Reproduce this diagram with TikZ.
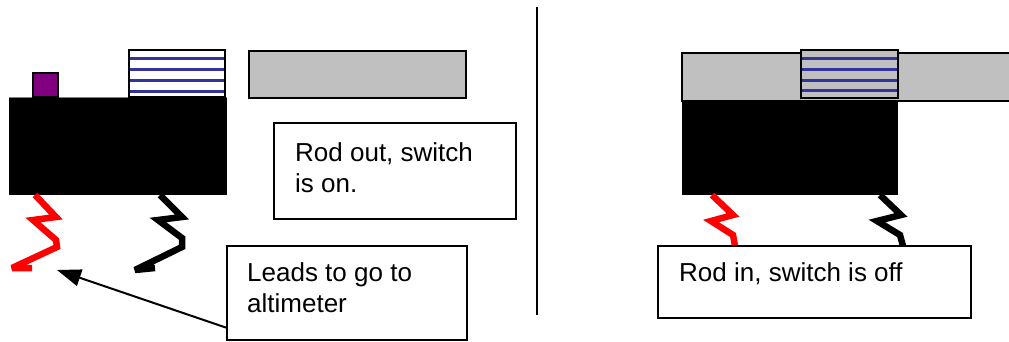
\documentclass[tikz,border=0pt]{standalone}
\usepackage{fontspec}
\setmainfont{Liberation Sans}
\usetikzlibrary{arrows.meta}
\definecolor{rodgrey}{RGB}{192,192,192}
\definecolor{coilblue}{RGB}{51,51,153}
\definecolor{knob}{RGB}{128,0,128}
\begin{document}
\begin{tikzpicture}[x=1pt,y=-1pt,
  outline/.style={draw=black,line width=1.6pt},
  caption/.style={outline,fill=white,inner sep=0pt,anchor=north west},
  words/.style={inner sep=0pt,anchor=base west,align=left,
    font=\fontsize{26}{31}\selectfont},
  coil/.style={coilblue,line width=3pt},
  lead/.style={line width=6.5pt,line join=miter,miter limit=4},
]
\useasboundingbox (0,0) rectangle (1009,341);

% ---------- switch with the rod pulled out ----------
\fill[black] (9,97) rectangle (227,195);
\draw[gray,line width=0.8pt] (9,97) -- (227,97);
\filldraw[fill=knob,outline] (33,73) rectangle (58,97);
\filldraw[fill=white,outline] (129,50) rectangle (225,97);
\foreach \yy in {58,69,80,91} \draw[coil] (130,\yy) -- (224,\yy);
\filldraw[fill=rodgrey,outline] (249,51) rectangle (466,98);

% leads of the left switch
\draw[lead,red] (35,195) -- (56,217) -- (33,220) -- (56,240) -- (57,247)
  -- (12,268) -- (32,268);
\draw[lead,black] (160,195) -- (182,217) -- (158,220) -- (182,238) -- (182,247)
  -- (135,270) -- (155,268);

% ---------- divider ----------
\draw[black,line width=1.4pt] (537,7) -- (537,315);

% ---------- switch with the rod pushed in ----------
\filldraw[fill=rodgrey,outline] (1012,53) -- (682,53) -- (682,101) -- (1012,101);
\filldraw[fill=rodgrey,outline] (801,50) rectangle (898,98);
\foreach \yy in {58,69,80,90} \draw[coil] (802,\yy) -- (897,\yy);
\fill[black] (682,100) rectangle (898,195);

% leads of the right switch
\draw[lead,red] (712,195) -- (733,215) -- (711,221) -- (733,235) -- (735,246);
\draw[lead,black] (880,195) -- (901,215) -- (877,221) -- (900,235) -- (903,246);

% ---------- captions ----------
\node[caption,minimum width=242pt,minimum height=96pt] (outbox) at (273,122) {};
\node[words] (outtext) at (295,192) {Rod out, switch\\is on.};

\node[caption,minimum width=240pt,minimum height=94pt] (leadbox) at (226,245) {};
\node[words] (leadtext) at (247,312) {Leads to go to\\altimeter};

\node[caption,minimum width=313pt,minimum height=72pt] (inbox) at (657,245) {};
\node[words] (intext) at (679,281) {Rod in, switch is off};

% pointer from the caption to the leads
\coordinate (leadtip) at (57,270);
\draw[line width=2pt,-{Triangle[length=24pt,width=17pt]}]
  (leadbox.south west) ++(0,-13) -- (leadtip);
\end{tikzpicture}
\end{document}
